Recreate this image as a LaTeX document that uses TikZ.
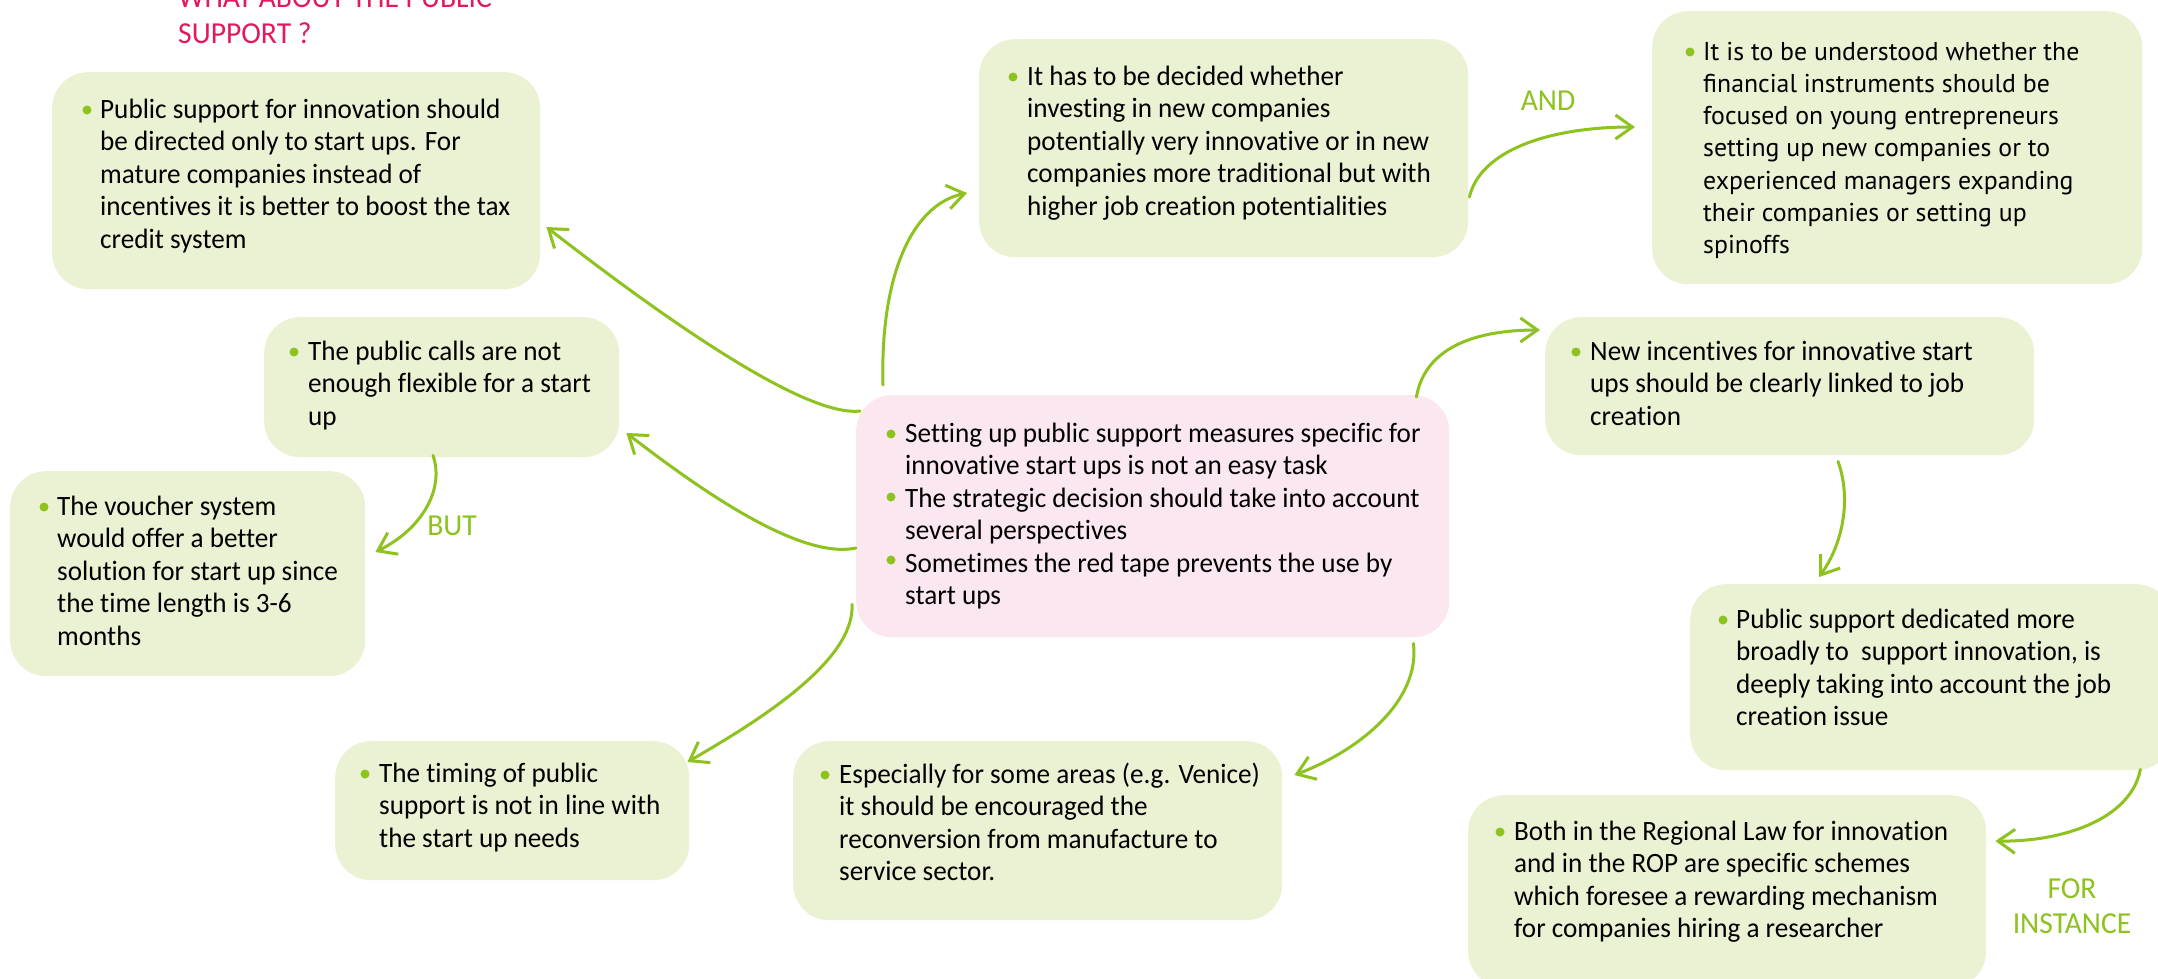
\documentclass[tikz,border=0pt]{standalone}
\usepackage{fontspec}
\setmainfont[FakeStretch=0.97, Ligatures=NoCommon]{Carlito}
\newfontfamily\altfont{PT Sans}
\usetikzlibrary{arrows.meta}

\definecolor{boxgreen}{HTML}{EBF1D3}
\definecolor{boxpink}{HTML}{FAE7F0}
\definecolor{linkgreen}{HTML}{8DC21F}
\definecolor{titlepink}{HTML}{E2195B}

\tikzset{
  gbox/.style={fill=boxgreen, draw=none, rounded corners=36pt, inner sep=0pt, anchor=north west},
  pbox/.style={gbox, fill=boxpink},
  btext/.style={anchor=base west, inner sep=0pt, text=black, font=\fontsize{28}{32.5}\selectfont},
  ftext/.style={btext, font=\altfont\fontsize{25.8}{32.3}\selectfont},
  dot/.style={circle, fill=linkgreen, inner sep=0pt, minimum size=9pt},
  link/.style={draw=linkgreen, line width=3pt, line cap=round,
    -{Straight Barb[length=17pt,width=24pt,line width=3pt]}},
  tag/.style={text=linkgreen, inner sep=0pt, font=\fontsize{30.5}{35}\selectfont},
}
\newcommand{\lines}[1]{\parbox[t]{700pt}{\raggedright #1}}

\begin{document}
\begin{tikzpicture}[x=1pt,y=-1pt]
\useasboundingbox (0,0) rectangle (2158,978);
\fill[white] (0,0) rectangle (2158,978);

% heading, its first line running off the top edge
\node[anchor=base west, inner sep=0pt, text=titlepink, font=\fontsize{30.5}{36}\selectfont]
  (title) at (178,7) {\lines{WHAT ABOUT THE PUBLIC\\SUPPORT ?}};

% boxes
\node[gbox, minimum width=488pt, minimum height=217pt] (A) at (52,72) {};
\node[gbox, minimum width=355pt, minimum height=140pt] (B) at (264,317) {};
\node[gbox, minimum width=355pt, minimum height=205pt] (C) at (10,471) {};
\node[pbox, minimum width=593pt, minimum height=242pt] (D) at (856,395) {};
\node[gbox, minimum width=489pt, minimum height=218pt] (E) at (979,39) {};
\node[gbox, minimum width=490pt, minimum height=273pt] (F) at (1652,11) {};
\node[gbox, minimum width=489pt, minimum height=138pt] (G) at (1545,317) {};
\node[gbox, minimum width=482pt, minimum height=186pt] (H) at (1690,584) {};
\node[gbox, minimum width=518pt, minimum height=192pt] (I) at (1468,795) {};
\node[gbox, minimum width=354pt, minimum height=139pt] (J) at (335,741) {};
\node[gbox, minimum width=489pt, minimum height=179pt] (K) at (793,741) {};

% bullets
\node[dot] (Ab) at (87,110) {};
\node[dot] (Bb) at (294,352) {};
\node[dot] (Cb) at (44,507) {};
\node[dot] (Db1) at (891,434) {};
\node[dot] (Db2) at (891,497) {};
\node[dot] (Db3) at (891,560) {};
\node[dot] (Eb) at (1013,77) {};
\node[dot] (Fb) at (1690,52) {};
\node[dot] (Gb) at (1576,352) {};
\node[dot] (Hb) at (1723,620) {};
\node[dot] (Ib) at (1500,832) {};
\node[dot] (Jb) at (365,774) {};
\node[dot] (Kb) at (825,775) {};

% box texts
\node[btext] (At) at (100,118) {\lines{Public support for innovation should\\be directed only to start ups. For\\mature companies instead of\\incentives it is better to boost the tax\\credit system}};
\node[btext] (Bt) at (308,360) {\lines{The public calls are not\\enough flexible for a start\\up}};
\node[btext] (Ct) at (57,515) {\lines{The voucher system\\would offer a better\\solution for start up since\\the time length is 3-6\\months}};
\node[btext] (Dt) at (905,442) {\lines{Setting up public support measures specific for\\innovative start ups is not an easy task\\The strategic decision should take into account\\several perspectives\\Sometimes the red tape prevents the use by\\start ups}};
\node[btext] (Et) at (1027,85) {\lines{It has to be decided whether\\investing in new companies\\potentially very innovative or in new\\companies more traditional but with\\higher job creation potentialities}};
\node[ftext] (Ft) at (1703,60) {\lines{It is to be understood whether the\\financial instruments should be\\focused on young entrepreneurs\\setting up new companies or to\\experienced managers expanding\\their companies or setting up\\spinoffs}};
\node[btext] (Gt) at (1590,360) {\lines{New incentives for innovative start\\ups should be clearly linked to job\\creation}};
\node[btext] (Ht) at (1736,628) {\lines{Public support dedicated more\\broadly to\ \ support innovation, is\\deeply taking into account the job\\creation issue}};
\node[btext] (It) at (1514,840) {\lines{Both in the Regional Law for innovation\\and in the ROP are specific schemes\\which foresee a rewarding mechanism\\for companies hiring a researcher}};
\node[btext] (Jt) at (379,782) {\lines{The timing of public\\support is not in line with\\the start up needs}};
\node[btext] (Kt) at (839,783) {\lines{Especially for some areas (e.g. Venice)\\it should be encouraged the\\reconversion from manufacture to\\service sector.}};

% connector labels
\node[tag, anchor=base] (and) at (1548,110) {AND};
\node[tag, anchor=base] (but) at (452,535) {BUT};
\node[tag, anchor=base, align=center] (forinst) at (2072,933) {FOR\\INSTANCE};

% connectors
\draw[link] ([shift={(4,16)}]D.north west)
  .. controls ++(-60,7) and ([shift={(100,228)}]A.north east) .. ([shift={(6,155)}]A.north east);
\draw[link] ([shift={(0,153)}]D.north west)
  .. controls ++(-56,12) and ([shift={(81,173)}]B.north east) .. ([shift={(7,116)}]B.north east);
\draw[link] ([shift={(169,-2)}]B.south west)
  .. controls ++(12,35) and ([shift={(55,59)}]C.north east) .. ([shift={(10,81)}]C.north east);
\draw[link] ([shift={(-4,-33)}]D.south west)
  .. controls ++(3,56) and ([shift={(71,-21)}]J.north east) .. ([shift={(-2,21)}]J.north east);
\draw[link] ([shift={(-36,6)}]D.south east)
  .. controls ++(7,57) and ([shift={(78,9)}]K.north east) .. ([shift={(12,34)}]K.north east);
\draw[link] ([shift={(27,-10)}]D.north west)
  .. controls ++(-3,-105) and ([shift={(-69,166)}]E.north west) .. ([shift={(-12,154)}]E.north west);
\draw[link] ([shift={(1,158)}]E.north east)
  .. controls ++(11,-47) and ([shift={(-102,116)}]F.north west) .. ([shift={(-17,116)}]F.north west);
\draw[link] ([shift={(-33,2)}]D.north east)
  .. controls ++(9,-52) and ([shift={(-65,13)}]G.north west) .. ([shift={(-5,13)}]G.north west);
\draw[link] ([shift={(293,6)}]G.south west)
  .. controls ++(14,39) and ([shift={(152,-39)}]H.north west) .. ([shift={(129,-7)}]H.north west);
\draw[link] ([shift={(-32,-1)}]H.south east)
  .. controls ++(-10,51) and ([shift={(74,47)}]I.north east) .. ([shift={(9,46)}]I.north east);
\end{tikzpicture}
\end{document}
